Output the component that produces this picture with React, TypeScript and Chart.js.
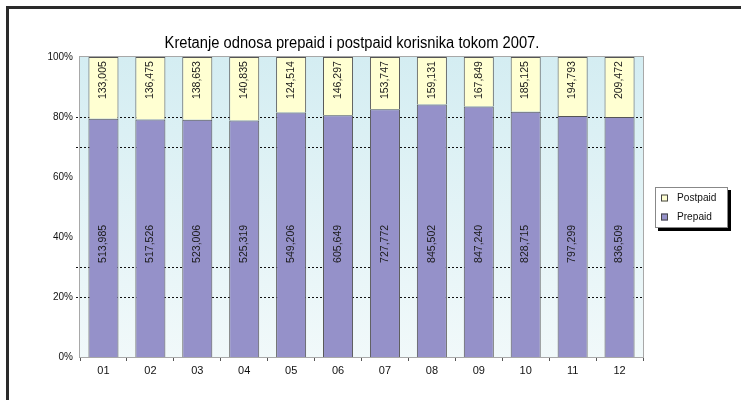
import React, { useEffect, useRef } from "react";
import { Chart, registerables } from "chart.js";

Chart.register(...registerables);

const chartTitle = "Kretanje odnosa prepaid i postpaid korisnika tokom 2007.";
const months = ["01", "02", "03", "04", "05", "06", "07", "08", "09", "10", "11", "12"];
const postpaid = [133005, 136475, 138653, 140835, 124514, 146297, 153747, 159131, 167849, 185125, 194793, 209472];
const prepaid = [513985, 517526, 523006, 525319, 549206, 605649, 727772, 845502, 847240, 828715, 797299, 836509];
const seriesNames = ["Prepaid", "Postpaid"];
const yTickStep = 20;
const dashedLevels = [20, 30, 70, 80];
// value levels (in %) at which each series' data labels are centred
const labelLevels = [37.7, 92.3];

const FONT = '"Liberation Sans Narrow", "Liberation Sans", Arial, sans-serif';
const PREPAID_COLOR = "#9591c9";
const POSTPAID_COLOR = "#ffffd2";

const fmt = (n: number) => n.toLocaleString("en-US");

export default function App() {
  const ref = useRef<HTMLCanvasElement | null>(null);

  useEffect(() => {
    document.body.style.margin = "0";
    const canvas = ref.current;
    if (!canvas) return;

    const totals = prepaid.map((p, i) => p + postpaid[i]);
    const prepaidPct = prepaid.map((p, i) => (p / totals[i]) * 100);
    const postpaidPct = postpaid.map((p, i) => (p / totals[i]) * 100);
    const rawValues = [prepaid, postpaid];

    const framePlugin = {
      id: "frame",
      beforeDraw(chart: any) {
        const ctx = chart.ctx;
        ctx.save();
        ctx.fillStyle = "#ffffff";
        ctx.fillRect(0, 0, chart.width, chart.height);
        ctx.strokeStyle = "#2a2a2a";
        ctx.lineWidth = 3;
        ctx.beginPath();
        ctx.moveTo(7.5, chart.height + 5);
        ctx.lineTo(7.5, 7.5);
        ctx.lineTo(chart.width + 5, 7.5);
        ctx.stroke();
        // title (condensed)
        ctx.fillStyle = "#000";
        ctx.font = `16px ${FONT}`;
        ctx.textAlign = "center";
        ctx.textBaseline = "alphabetic";
        ctx.translate(352, 48);
        ctx.scale(0.92, 1);
        ctx.fillText(chartTitle, 0, 0);
        ctx.restore();
      },
      beforeDatasetsDraw(chart: any) {
        const { ctx, chartArea } = chart;
        const { left, right, top, bottom } = chartArea;
        ctx.save();
        const g = ctx.createLinearGradient(0, top, 0, bottom);
        g.addColorStop(0, "#d4edf2");
        g.addColorStop(1, "#f1f9fa");
        ctx.fillStyle = g;
        ctx.fillRect(left, top, right - left, bottom - top);
        const y = chart.scales.y;
        ctx.strokeStyle = "#111";
        ctx.lineWidth = 1;
        ctx.setLineDash([2, 2]);
        dashedLevels.forEach((lv) => {
          const py = Math.round(y.getPixelForValue(lv)) + 0.5;
          ctx.beginPath();
          ctx.moveTo(left - 4, py);
          ctx.lineTo(right, py);
          ctx.stroke();
        });
        ctx.restore();
      },
      afterDatasetsDraw(chart: any) {
        const { ctx, chartArea } = chart;
        const { left, right, top, bottom } = chartArea;
        const y = chart.scales.y;
        ctx.save();
        ctx.strokeStyle = "#a8a8a8";
        ctx.lineWidth = 1;
        ctx.strokeRect(left - 0.5, top - 0.5, right - left + 1, bottom - top + 1);
        // data labels
        ctx.fillStyle = "#1a1a1a";
        ctx.font = `10px ${FONT}`;
        ctx.textAlign = "center";
        ctx.textBaseline = "middle";
        chart.data.datasets.forEach((ds: any, di: number) => {
          const meta = chart.getDatasetMeta(di);
          const cy = y.getPixelForValue(labelLevels[di]);
          meta.data.forEach((bar: any, i: number) => {
            ctx.save();
            ctx.translate(bar.x, cy);
            ctx.rotate(-Math.PI / 2);
            ctx.scale(1.05, 1);
            ctx.fillText(fmt(rawValues[di][i]), 0, 0);
            ctx.restore();
          });
        });
        // legend
        const lx = 655, ly = 187, lw = 73, lh = 41;
        ctx.fillStyle = "#000";
        ctx.fillRect(lx + 3, ly + 3, lw, lh);
        ctx.fillStyle = "#fff";
        ctx.fillRect(lx, ly, lw, lh);
        ctx.strokeStyle = "#888";
        ctx.strokeRect(lx + 0.5, ly + 0.5, lw - 1, lh - 1);
        const items = [
          { name: seriesNames[1], color: POSTPAID_COLOR },
          { name: seriesNames[0], color: PREPAID_COLOR },
        ];
        ctx.font = `11px ${FONT}`;
        ctx.textAlign = "left";
        ctx.textBaseline = "middle";
        items.forEach((it, k) => {
          const iy = ly + 11 + k * 19;
          ctx.fillStyle = it.color;
          ctx.fillRect(lx + 6, iy - 3.5, 7, 7);
          ctx.strokeStyle = "#444";
          ctx.strokeRect(lx + 6.5, iy - 3, 6, 6);
          ctx.fillStyle = "#111";
          ctx.save();
          ctx.translate(lx + 22, iy);
          ctx.scale(0.92, 1);
          ctx.fillText(it.name, 0, 0);
          ctx.restore();
        });
        ctx.restore();
      },
    };

    const chart = new Chart(canvas, {
      type: "bar",
      data: {
        labels: months,
        datasets: [
          {
            label: seriesNames[0],
            data: prepaidPct,
            backgroundColor: PREPAID_COLOR,
            borderColor: "#555555",
            borderWidth: 1,
            categoryPercentage: 1,
            barPercentage: 0.64,
          },
          {
            label: seriesNames[1],
            data: postpaidPct,
            backgroundColor: POSTPAID_COLOR,
            borderColor: "#555555",
            borderWidth: 1,
            categoryPercentage: 1,
            barPercentage: 0.64,
          },
        ],
      },
      options: {
        responsive: false,
        animation: false,
        layout: { padding: { top: 57, right: 98, left: 0, bottom: 0 } },
        plugins: {
          legend: { display: false },
          title: { display: false },
          tooltip: { enabled: false },
        },
        scales: {
          x: {
            stacked: true,
            offset: true,
            grid: {
              display: true,
              drawOnChartArea: false,
              drawTicks: true,
              tickLength: 4,
              color: "#555",
              offset: true,
            },
            border: { display: false },
            ticks: { font: { size: 11, family: FONT }, color: "#111", padding: 3 },
            afterFit: (s: any) => {
              s.height = 43;
            },
          },
          y: {
            stacked: true,
            min: 0,
            max: 100,
            grid: { display: false, drawTicks: false, tickLength: 0 },
            border: { display: false },
            ticks: {
              stepSize: yTickStep,
              font: { size: 10, family: FONT },
              color: "#111",
              padding: 7,
              callback: (v: any) => `${v}%`,
            },
            afterFit: (s: any) => {
              s.width = 80;
            },
          },
        },
      },
      plugins: [framePlugin],
    });

    return () => chart.destroy();
  }, []);

  return (
    <div style={{ position: "absolute", left: 0, top: 0, width: 741, height: 400 }}>
      <canvas ref={ref} width={741} height={400} style={{ width: 741, height: 400 }} />
    </div>
  );
}
